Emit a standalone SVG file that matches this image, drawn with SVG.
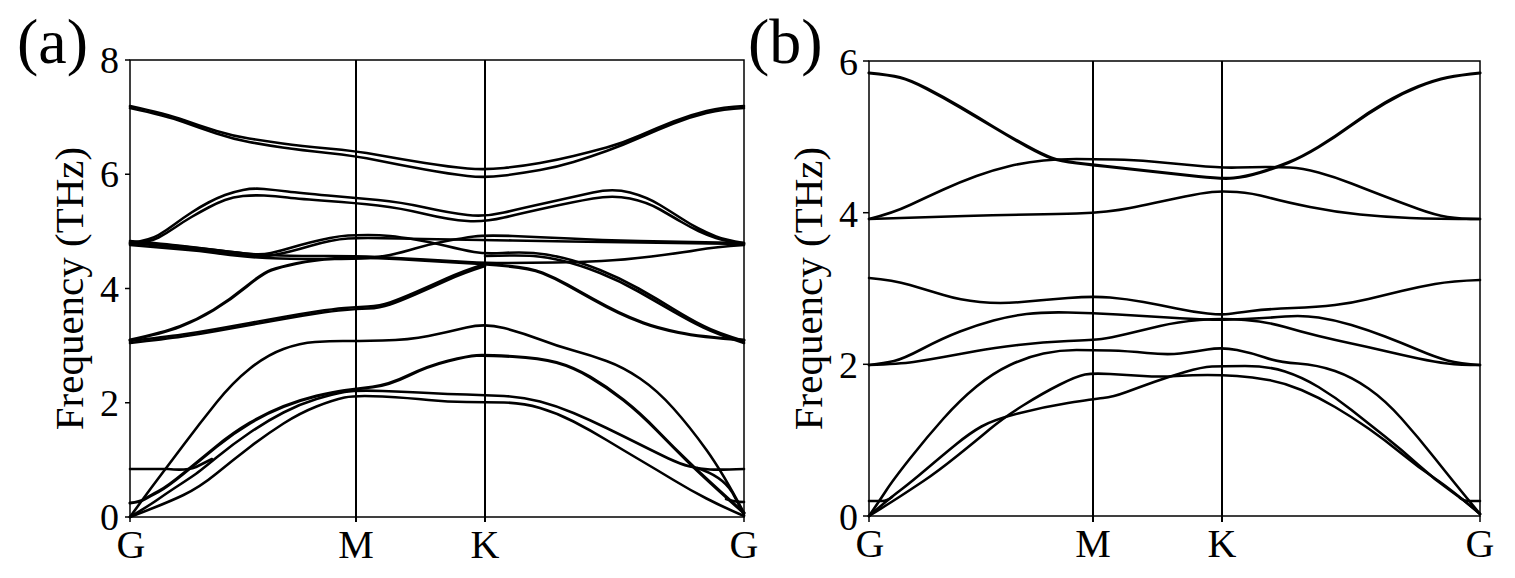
<svg xmlns="http://www.w3.org/2000/svg" width="1515" height="578" viewBox="0 0 1515 578">
<style>
.band{fill:none;stroke:#000;stroke-width:2.6;stroke-linecap:round;stroke-linejoin:round}
.thick{stroke-width:3.2}
.frame{fill:none;stroke:#000;stroke-width:1.5}
.sym{stroke:#000;stroke-width:2}
.tick{stroke:#000;stroke-width:1.5}
.num{font-size:38px;text-anchor:end}
.kp{font-size:40px;text-anchor:middle}
.ylab{font-size:41px;text-anchor:middle}
.panel{font-size:64px}
</style>
<rect x="0" y="0" width="1515" height="578" fill="#fff"/>

<g id="panel-a">
  <g id="text-a" font-family="Liberation Serif, Times New Roman, DejaVu Serif, serif" fill="#000">
    <text class="panel" x="17" y="63">(a)</text>
    <text class="num" x="119" y="73">8</text>
    <text class="num" x="119" y="187">6</text>
    <text class="num" x="119" y="301.5">4</text>
    <text class="num" x="119" y="416">2</text>
    <text class="num" x="119" y="530">0</text>
    <text class="kp" x="131" y="558">G</text>
    <text class="kp" x="356" y="558">M</text>
    <text class="kp" x="485" y="558">K</text>
    <text class="kp" x="744" y="558">G</text>
    <text class="ylab" transform="translate(83,288.5) rotate(-90)">Frequency (THz)</text>
  </g>
  <g id="axes-a">
    <rect class="frame" x="130" y="60" width="614" height="457"/>
    <line class="sym" x1="356" y1="60" x2="356" y2="522"/>
    <line class="sym" x1="485" y1="60" x2="485" y2="522"/>
    <line class="tick" x1="125" y1="60" x2="130" y2="60"/>
    <line class="tick" x1="125" y1="174.25" x2="130" y2="174.25"/>
    <line class="tick" x1="125" y1="288.5" x2="130" y2="288.5"/>
    <line class="tick" x1="125" y1="402.75" x2="130" y2="402.75"/>
    <line class="tick" x1="125" y1="517" x2="130" y2="517"/>
    <line class="tick" x1="130" y1="517" x2="130" y2="522"/>
    <line class="tick" x1="744" y1="517" x2="744" y2="522"/>
  </g>
  <g id="bands-a">
    <path class="band" d="M130,106 Q167,114 183.5,120 Q200,126 216.5,131 Q233,136 249,138.5 Q265,141 282.5,143.5 Q300,146 328,148.5 Q356,151 378,155 Q400,159 425,163 Q450,167 467.5,168.5 Q485,170 504,168 Q523,166 540,163 Q557,160 573.5,156 Q590,152 606.5,147.5 Q623,143 640,135.5 Q657,128 673.5,121.5 Q690,115 706.5,111 Q723,107 744,106"/>
    <path class="band" d="M130,108 Q167,116 183.5,122 Q200,128 216.5,133.5 Q233,139 249,142 Q265,145 282.5,147.5 Q300,150 328,153 Q356,156 378,160.5 Q400,165 425,169.5 Q450,174 467.5,176 Q485,178 504,175.5 Q523,173 540,170 Q557,167 573.5,162 Q590,157 606.5,151 Q623,145 640,137.5 Q657,130 673.5,123.5 Q690,117 706.5,113 Q723,109 744,108"/>
    <path class="band" d="M130,243 Q150,240 158.5,235 Q167,230 175,224 Q183,218 191.5,212.5 Q200,207 208.5,202.5 Q217,198 225,195 Q233,192 243,190 Q253,188 264,189 Q275,190 287.5,191.5 Q300,193 328,195.5 Q356,198 378,200 Q400,202 425,207.5 Q450,213 467.5,215 Q485,217 504,212.5 Q523,208 548,202.5 Q573,197 593,192.5 Q613,188 630,192.5 Q647,197 660,205 Q673,213 681.5,218.5 Q690,224 698.5,228.5 Q707,233 716,236.5 Q725,240 744,243"/>
    <path class="band" d="M130,244 Q150,242 158.5,237.5 Q167,233 175,227.5 Q183,222 191.5,217 Q200,212 208.5,207.5 Q217,203 225,200 Q233,197 243,196 Q253,195 264,195.5 Q275,196 287.5,197.5 Q300,199 328,201 Q356,203 378,205.5 Q400,208 425,214 Q450,220 467.5,221 Q485,222 504,217.5 Q523,213 548,207.5 Q573,202 593,198.5 Q613,195 630,198.5 Q647,202 660,209.5 Q673,217 681.5,222 Q690,227 698.5,231 Q707,235 716,238 Q725,241 744,244"/>
    <path class="band" d="M130,242 Q165,245 182.5,246.5 Q200,248 215,250 Q230,252 245,253.5 Q260,255 280,255.5 Q300,256 328,256 Q356,256 378,257 Q400,258 425,259.5 Q450,261 467.5,262 Q485,263 507.5,263 Q530,263 555,262.5 Q580,262 601.5,261 Q623,260 651.5,256.5 Q680,253 697.5,250 Q715,247 744,245"/>
    <path class="band" d="M130,245 Q165,248 182.5,249.5 Q200,251 215,253 Q230,255 245,256.5 Q260,258 280,258.5 Q300,259 328,259 Q356,259 368,258 Q380,257 390,255 Q400,253 415,248.5 Q430,244 446.5,241 Q463,238 474,236.5 Q485,235 512.5,236 Q540,237 570,238.5 Q600,240 640,241 Q680,242 744,243"/>
    <path class="band" d="M130,241 Q165,244 182.5,246 Q200,248 220,250.5 Q240,253 251,254 Q262,255 271,253 Q280,251 290,248 Q300,245 310,242.5 Q320,240 330,238 Q340,236 348,235.5 Q356,235 368,235 Q380,235 390,236 Q400,237 415,239.5 Q430,242 446.5,246 Q463,250 474,252 Q485,254 502.5,253 Q520,252 533.5,253 Q547,254 563.5,258 Q580,262 600,270 Q620,278 638.5,288.5 Q657,299 673.5,309 Q690,319 703.5,326 Q717,333 744,341"/>
    <path class="band" d="M130,243 Q165,246 182.5,248 Q200,250 220,252.5 Q240,255 251,256 Q262,257 271,255.5 Q280,254 290,251.5 Q300,249 310,246 Q320,243 330,241 Q340,239 348,238.5 Q356,238 368,238 Q380,238 400,238.5 Q420,239 452.5,239.5 Q485,240 512.5,240.5 Q540,241 570,241.5 Q600,242 640,242.5 Q680,243 744,244"/>
    <path class="band thick" d="M130,340 Q163,333 180,326.5 Q197,320 213.5,310 Q230,300 246.5,286.5 Q263,273 271.5,270 Q280,267 296.5,263.5 Q313,260 334.5,258.5 Q356,257 378,258 Q400,259 425,260.5 Q450,262 467.5,263 Q485,264 507.5,266 Q530,268 542.5,273 Q555,278 567.5,285 Q580,292 593.5,299.5 Q607,307 618.5,312.5 Q630,318 643.5,323 Q657,328 678.5,332.5 Q700,337 744,340"/>
    <path class="band" d="M130,341 Q165,337 182.5,334.5 Q200,332 216.5,329 Q233,326 250,323 Q267,320 283.5,317 Q300,314 316.5,311.5 Q333,309 344.5,308 Q356,307 368,306.5 Q380,306 390,302.5 Q400,299 415,292.5 Q430,286 446.5,278.5 Q463,271 485,264"/>
    <path class="band" d="M130,343 Q165,339 182.5,336.5 Q200,334 216.5,331 Q233,328 250,325 Q267,322 283.5,319 Q300,316 316.5,313.5 Q333,311 344.5,310 Q356,309 368,308.5 Q380,308 390,304.5 Q400,301 415,294.5 Q430,288 446.5,280.5 Q463,273 485,266"/>
    <path class="band" d="M485,256 Q520,255 533.5,256 Q547,257 563.5,261 Q580,265 600,273 Q620,281 638.5,291.5 Q657,302 673.5,311.5 Q690,321 703.5,327.5 Q717,334 744,343"/>
    <path class="band" d="M130,517 Q148,492 157.5,479.5 Q167,467 183.5,445 Q200,423 216.5,402.5 Q233,382 250,368.5 Q267,355 283.5,349 Q300,343 315,342 Q330,341 343,341 Q356,341 382.5,340.5 Q409,340 428.5,336 Q448,332 466.5,327.5 Q485,323 504,328 Q523,333 540,339.5 Q557,346 573.5,350.5 Q590,355 606.5,361 Q623,367 640,378.5 Q657,390 673.5,408.5 Q690,427 706.5,450 Q723,473 744,513"/>
    <path class="band thick" d="M130,503 Q140,502 145,499 Q150,496 158.5,491.5 Q167,487 183.5,473.5 Q200,460 216.5,446.5 Q233,433 250,423 Q267,413 283.5,406.5 Q300,400 316.5,396 Q333,392 344.5,390.5 Q356,389 372.5,387 Q389,385 408.5,375.5 Q428,366 448,361 Q468,356 476.5,355.5 Q485,355 512.5,356.5 Q540,358 556.5,362.5 Q573,367 590,377 Q607,387 623.5,400 Q640,413 656.5,430 Q673,447 690,463.5 Q707,480 744,513"/>
    <path class="band" d="M130,517 Q150,505 158.5,499 Q167,493 178.5,485.5 Q190,478 195,474.5 Q200,471 216.5,457.5 Q233,444 250,432.5 Q267,421 283.5,412.5 Q300,404 316.5,399 Q333,394 344.5,392 Q356,390 382.5,391 Q409,392 428.5,393 Q448,394 466.5,394.5 Q485,395 504,396 Q523,397 540,401.5 Q557,406 573.5,413 Q590,420 606.5,428 Q623,436 640,444.5 Q657,453 668.5,458.5 Q680,464 690,466.5 Q700,469 710,469.5 Q720,470 744,469"/>
    <path class="band" d="M130,517 Q167,503 183.5,495 Q200,487 216.5,473.5 Q233,460 250,447 Q267,434 283.5,423.5 Q300,413 316.5,406.5 Q333,400 344.5,397.5 Q356,395 382.5,396.5 Q409,398 428.5,400 Q448,402 466.5,402 Q485,402 504,402.5 Q523,403 540,408 Q557,413 573.5,421.5 Q590,430 606.5,440 Q623,450 640,460 Q657,470 673.5,480 Q690,490 706.5,498.5 Q723,507 744,516"/>
    <path class="band" d="M130,469 L168,469 Q186,471 196,467 Q204,463 212,459"/>
    <path class="band" d="M697,468 Q722,476 732,492 Q738,503 744,515"/>
    <path class="band" d="M726,499 Q734,502 744,502"/>
  </g>
</g>

<g id="panel-b">
  <g id="text-b" font-family="Liberation Serif, Times New Roman, DejaVu Serif, serif" fill="#000">
    <text class="panel" x="748" y="63">(b)</text>
    <text class="num" x="858" y="75">6</text>
    <text class="num" x="858" y="226.5">4</text>
    <text class="num" x="858" y="378">2</text>
    <text class="num" x="858" y="529.5">0</text>
    <text class="kp" x="870" y="557">G</text>
    <text class="kp" x="1093" y="557">M</text>
    <text class="kp" x="1222" y="557">K</text>
    <text class="kp" x="1480" y="557">G</text>
    <text class="ylab" transform="translate(822,288.5) rotate(-90)">Frequency (THz)</text>
  </g>
  <g id="axes-b">
    <rect class="frame" x="869" y="61" width="611" height="455"/>
    <line class="sym" x1="1093" y1="61" x2="1093" y2="522"/>
    <line class="sym" x1="1222" y1="61" x2="1222" y2="522"/>
    <line class="tick" x1="863" y1="61" x2="869" y2="61"/>
    <line class="tick" x1="863" y1="212.7" x2="869" y2="212.7"/>
    <line class="tick" x1="863" y1="364.3" x2="869" y2="364.3"/>
    <line class="tick" x1="863" y1="516" x2="869" y2="516"/>
    <line class="tick" x1="869" y1="516" x2="869" y2="522"/>
    <line class="tick" x1="1480" y1="516" x2="1480" y2="522"/>
  </g>
  <g id="bands-b">
    <path class="band thick" d="M869,73 Q890,75 900,77.5 Q910,80 926.5,88.5 Q943,97 960,107 Q977,117 993.5,127 Q1010,137 1026.5,146 Q1043,155 1051.5,158 Q1060,161 1076.5,163 Q1093,165 1116.5,167.5 Q1140,170 1157.5,172 Q1175,174 1198.5,176.5 Q1222,179 1233.5,178 Q1245,177 1260,172.5 Q1275,168 1288.5,162.5 Q1302,157 1318.5,147 Q1335,137 1351.5,125 Q1368,113 1385,103 Q1402,93 1418.5,86.5 Q1435,80 1447.5,77.5 Q1460,75 1480,73"/>
    <path class="band" d="M869,219 Q893,213 910,205 Q927,197 943.5,189.5 Q960,182 976.5,176 Q993,170 1010,166 Q1027,162 1043.5,160.5 Q1060,159 1076.5,159 Q1093,159 1114,159.5 Q1135,160 1151.5,161.5 Q1168,163 1195,165.5 Q1222,168 1237,167.5 Q1252,167 1265,167 Q1278,167 1290,167.5 Q1302,168 1318.5,172.5 Q1335,177 1351.5,183.5 Q1368,190 1385,196.5 Q1402,203 1418.5,209 Q1435,215 1447.5,217 Q1460,219 1480,219"/>
    <path class="band" d="M869,219 Q930,217 965,216 Q1000,215 1030,214.5 Q1060,214 1076.5,213.5 Q1093,213 1106.5,211.5 Q1120,210 1130,208 Q1140,206 1154,203 Q1168,200 1185,196.5 Q1202,193 1212,192 Q1222,191 1237,192 Q1252,193 1268.5,197.5 Q1285,202 1310,207 Q1335,212 1360,214.5 Q1385,217 1410,218 Q1435,219 1480,219"/>
    <path class="band" d="M869,278 Q893,280 910,285 Q927,290 943.5,295 Q960,300 980,302 Q1000,304 1021.5,302 Q1043,300 1068,298 Q1093,296 1110,297.5 Q1127,299 1143.5,302 Q1160,305 1176.5,308.5 Q1193,312 1207.5,313.5 Q1222,315 1228.5,314 Q1235,313 1251.5,311 Q1268,309 1293,308 Q1318,307 1335,305 Q1352,303 1368.5,299 Q1385,295 1401.5,291 Q1418,287 1435,284 Q1452,281 1480,280"/>
    <path class="band" d="M869,365 Q885,363 894,361 Q903,359 923,348.5 Q943,338 960,331.5 Q977,325 993.5,320.5 Q1010,316 1026.5,314 Q1043,312 1068,312.5 Q1093,313 1118,314.5 Q1143,316 1168,317.5 Q1193,319 1207.5,319.5 Q1222,320 1245,319 Q1268,318 1285,316.5 Q1302,315 1318.5,317.5 Q1335,320 1351.5,325 Q1368,330 1385,336.5 Q1402,343 1418.5,350 Q1435,357 1447.5,360.5 Q1460,364 1480,365"/>
    <path class="band" d="M869,365 Q900,364 913.5,362 Q927,360 943.5,357 Q960,354 976.5,351 Q993,348 1018,345 Q1043,342 1068,341 Q1093,340 1101.5,339 Q1110,338 1126.5,334 Q1143,330 1160,326 Q1177,322 1199.5,320 Q1222,318 1245,320 Q1268,322 1285,327 Q1302,332 1318.5,336 Q1335,340 1351.5,343.5 Q1368,347 1385,351 Q1402,355 1418.5,358.5 Q1435,362 1447.5,363.5 Q1460,365 1480,365"/>
    <path class="band" d="M869,516 Q880,500 886.5,490 Q893,480 910,458.5 Q927,437 943.5,418.5 Q960,400 976.5,386.5 Q993,373 1010,365 Q1027,357 1043.5,353.5 Q1060,350 1076.5,350 Q1093,350 1110,350.5 Q1127,351 1147,353 Q1167,355 1180,353.5 Q1193,352 1207.5,349.5 Q1222,347 1237,350 Q1252,353 1265,357.5 Q1278,362 1298,363.5 Q1318,365 1335,371 Q1352,377 1368.5,388.5 Q1385,400 1401.5,418.5 Q1418,437 1435,458.5 Q1452,480 1480,514"/>
    <path class="band" d="M869,516 Q890,503 900,496.5 Q910,490 923.5,481 Q937,472 957,456 Q977,440 990,429 Q1003,418 1023,405.5 Q1043,393 1060,384.5 Q1077,376 1085,374.5 Q1093,373 1110,374 Q1127,375 1143.5,376 Q1160,377 1176.5,376 Q1193,375 1207.5,375 Q1222,375 1237,376 Q1252,377 1268.5,380 Q1285,383 1301.5,390 Q1318,397 1335,407 Q1352,417 1368.5,428.5 Q1385,440 1401.5,453.5 Q1418,467 1435,478.5 Q1452,490 1480,514"/>
    <path class="band" d="M869,516 Q890,498 900,490.5 Q910,483 926.5,469 Q943,455 956.5,444 Q970,433 981.5,426.5 Q993,420 1018,413.5 Q1043,407 1068,403 Q1093,399 1103,398 Q1113,397 1126.5,392 Q1140,387 1154,382 Q1168,377 1185,372 Q1202,367 1212,366.5 Q1222,366 1245,366 Q1268,366 1285,371.5 Q1302,377 1318.5,387 Q1335,397 1351.5,410 Q1368,423 1385,436.5 Q1402,450 1418.5,465 Q1435,480 1451.5,491.5 Q1468,503 1480,514"/>
    <path class="band" d="M869,501 L882,501 Q887,501 892,497"/>
    <path class="band" d="M1480,501 L1468,501 Q1464,501 1460,498"/>
  </g>
</g>
</svg>
